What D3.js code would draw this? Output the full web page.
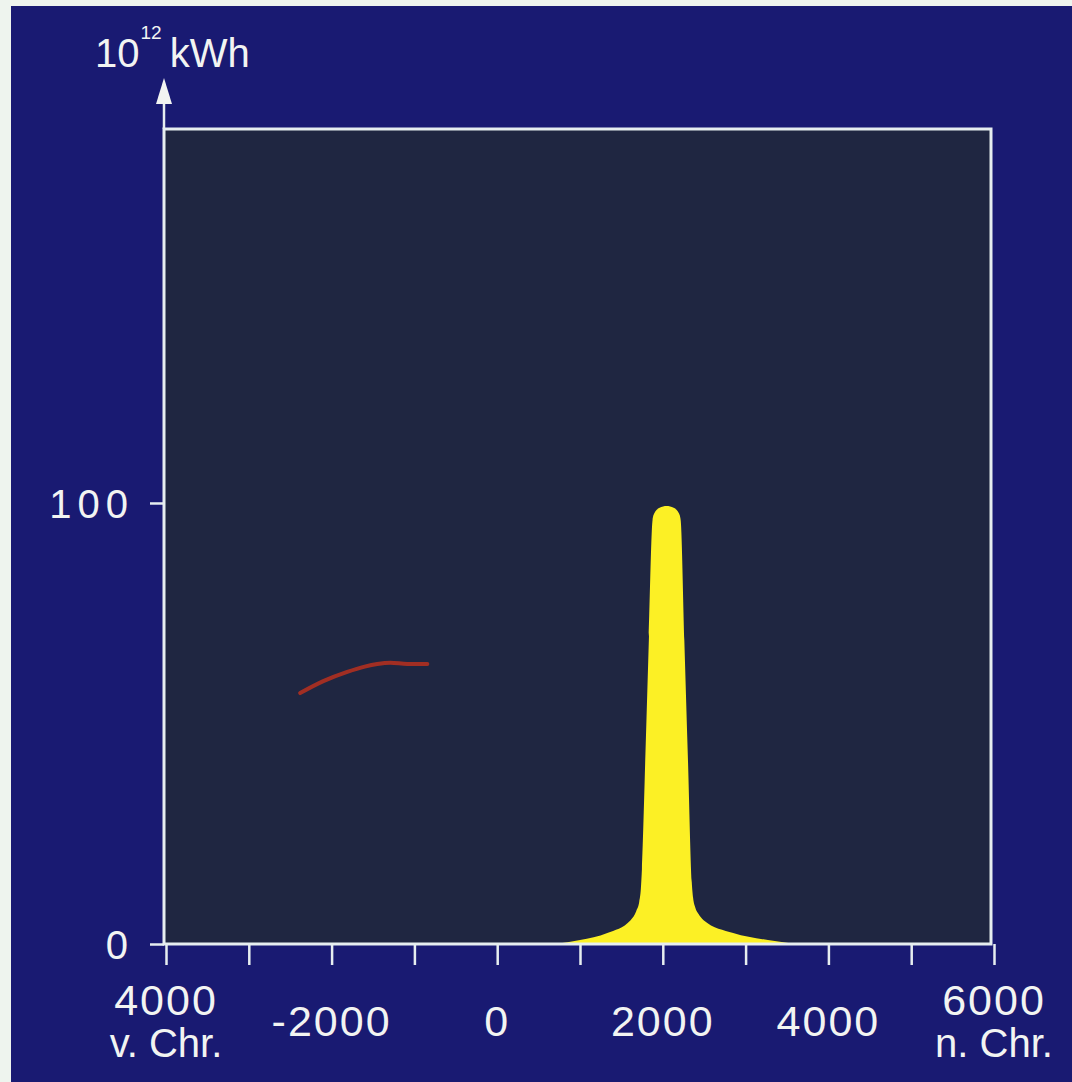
<!DOCTYPE html>
<html>
<head>
<meta charset="utf-8">
<script src="https://cdn.jsdelivr.net/npm/d3@7"></script>
<style>
  body { margin: 0; background: #eef4ee; }
  svg { display: block; }
  text { font-family: "Liberation Sans", Arial, sans-serif; fill: #f2f4f2; }
</style>
</head>
<body>
<svg width="1072" height="1082"></svg>
<script>
// energy use, 10^12 kWh, by year (negative = v. Chr.)
const years  = [700, 1000, 1330, 1611, 1680, 1715, 1735, 1748, 1790, 1833, 1876, 1896, 1961, 2046, 2131, 2196, 2216, 2260, 2305, 2350, 2366, 2392, 2432, 2493, 2850, 3270, 3600]
const energy = [0,   0.9,  2.5,  5.4,  7.5,  9.5,  12.5, 17,   43,   69.8, 96.1, 97.6, 98.9, 99.3, 98.9, 97.6, 96.1, 68.9, 41.1, 14,   10.5, 8.3,  6.8,  5.4,  2.5,  0.9,  0]

// faint red trace left of 0
const traceYears  = [-2380, -2100, -1811, -1600, -1449, -1291, -1086, -844]
const traceEnergy = [56.9,  59.6,  61.7,  62.9,  63.5,  63.8,  63.5,  63.5]

const yTicks = [0, 100]
const xTicks = d3.range(-4000, 6001, 1000)
const xLabels = [
  { year: -4000, lines: ['4000', 'v. Chr.'] },
  { year: -2000, lines: ['-2000'] },
  { year: 0,     lines: ['0'] },
  { year: 2000,  lines: ['2000'] },
  { year: 4000,  lines: ['4000'] },
  { year: 6000,  lines: ['6000', 'n. Chr.'] }
]

const svg = d3.select('svg')

// blue panel
svg.append('rect')
    .attr('x', 11).attr('y', 6)
    .attr('width', 1061).attr('height', 1076)
    .attr('fill', '#191a72')

const pLeft = 164, pRight = 991, pTop = 129, pBottom = 944

const x = d3.scaleLinear().domain([-4000, 6000]).range([166, 994])
const y = d3.scaleLinear().domain([0, 184.8]).range([pBottom, pTop])

// plot area
svg.append('rect')
    .attr('x', pLeft).attr('y', pTop)
    .attr('width', pRight - pLeft).attr('height', pBottom - pTop)
    .attr('fill', '#1f2641')

const area = d3.area()
    .x((d, i) => x(years[i]))
    .y0(y(0))
    .y1(d => y(d))
    .curve(d3.curveMonotoneX)

svg.append('path')
    .datum(energy)
    .attr('d', area)
    .attr('fill', '#fcf025')

const trace = d3.line()
    .x((d, i) => x(traceYears[i]))
    .y(d => y(d))
    .curve(d3.curveMonotoneX)

svg.append('path')
    .datum(traceEnergy)
    .attr('d', trace)
    .attr('fill', 'none')
    .attr('stroke', '#b8301e')
    .attr('stroke-width', 4)
    .attr('stroke-linecap', 'round')
    .attr('opacity', 0.85)

// frame
svg.append('rect')
    .attr('x', pLeft).attr('y', pTop)
    .attr('width', pRight - pLeft).attr('height', pBottom - pTop)
    .attr('fill', 'none')
    .attr('stroke', '#e6eef0')
    .attr('stroke-width', 3)

// y axis arrow
svg.append('line')
    .attr('x1', pLeft).attr('x2', pLeft)
    .attr('y1', pTop).attr('y2', 100)
    .attr('stroke', '#e6eef0').attr('stroke-width', 2.5)
svg.append('path')
    .attr('d', `M${pLeft},78 L${pLeft - 8},104 L${pLeft + 8},104 Z`)
    .attr('fill', '#f2f4f2')

// y axis ticks
const yAxis = svg.append('g')
    .attr('transform', `translate(${pLeft},0)`)
    .call(d3.axisLeft(y).tickValues(yTicks).tickSize(14).tickPadding(16).tickFormat(d3.format('d')))
yAxis.select('.domain').remove()
yAxis.selectAll('line').attr('stroke', '#e6eef0').attr('stroke-width', 2.5)
yAxis.selectAll('text')
    .attr('fill', '#f2f4f2')
    .style('font-size', '40px')
    .style('letter-spacing', '6px')
    .attr('dy', '0.36em')

// x axis ticks
const xAxis = svg.append('g')
    .attr('transform', `translate(0,${pBottom})`)
    .call(d3.axisBottom(x).tickValues(xTicks).tickSize(21).tickFormat(''))
xAxis.select('.domain').remove()
xAxis.selectAll('line').attr('stroke', '#e6eef0').attr('stroke-width', 2.5)

// x labels
xLabels.forEach(l => {
  const t = svg.append('text')
      .attr('text-anchor', 'middle')
      .style('font-size', '43px')
      .style('letter-spacing', '2px')
  if (l.lines.length === 1) {
    t.attr('x', x(l.year)).attr('y', 1036).text(l.lines[0])
  } else {
    t.append('tspan').attr('x', x(l.year)).attr('y', 1015).text(l.lines[0])
    t.append('tspan').attr('x', x(l.year)).attr('y', 1057)
        .style('font-size', '40px').style('letter-spacing', '0px').text(l.lines[1])
  }
})

// unit label
const unit = svg.append('text')
    .attr('x', 95).attr('y', 67)
    .style('font-size', '40px')
unit.append('tspan').text('10')
unit.append('tspan').attr('dy', -28).attr('dx', 1).style('font-size', '19px').text('12')
unit.append('tspan').attr('dy', 28).attr('dx', 8).text('kWh')
</script>
</body>
</html>
